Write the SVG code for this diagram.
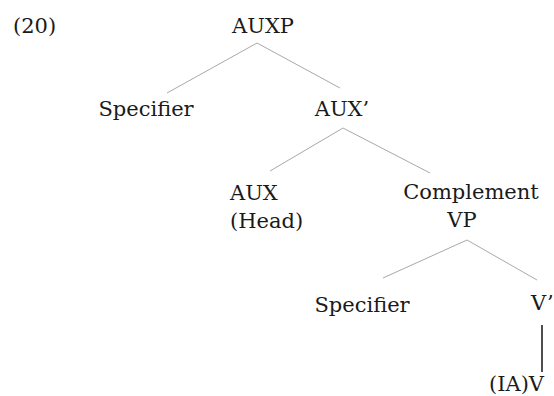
<svg xmlns="http://www.w3.org/2000/svg" width="554" height="396" viewBox="0 0 554 396">
<style>
text{font-family:"DejaVu Serif","Liberation Serif",serif;font-size:21px;fill:#1a1a1a}
.m{text-anchor:middle}
.e{stroke:#a8a8a8;stroke-width:1;fill:none}
.v{stroke:#222;stroke-width:1.6;fill:none}
</style>
<rect width="554" height="396" fill="#fff"/>
<text x="13" y="33">(20)</text>
<g id="connectors">
<line class="e" x1="257" y1="43" x2="167" y2="93"/>
<line class="e" x1="257" y1="43" x2="340" y2="88"/>
<line class="e" x1="343" y1="128" x2="270" y2="171"/>
<line class="e" x1="343" y1="128" x2="430" y2="173"/>
<line class="e" x1="467" y1="240" x2="383" y2="278"/>
<line class="e" x1="467" y1="240" x2="537" y2="280"/>
<line class="v" x1="542" y1="325" x2="542" y2="372"/>
</g>
<g id="auxp"><text class="m" x="263" y="33">AUXP</text></g>
<g id="spec1"><text class="m" x="146" y="116">Specifier</text></g>
<g id="auxbar"><text class="m" x="342" y="116">AUX’</text></g>
<g id="aux"><text x="230" y="200">AUX</text><text x="230" y="228">(Head)</text></g>
<g id="comp"><text class="m" x="471" y="199">Complement</text><text class="m" x="462" y="227">VP</text></g>
<g id="spec2"><text class="m" x="362" y="312">Specifier</text></g>
<g id="vbar"><text x="531" y="310">V’</text></g>
<g id="v"><text x="489" y="391">(IA)V</text></g>
</svg>
